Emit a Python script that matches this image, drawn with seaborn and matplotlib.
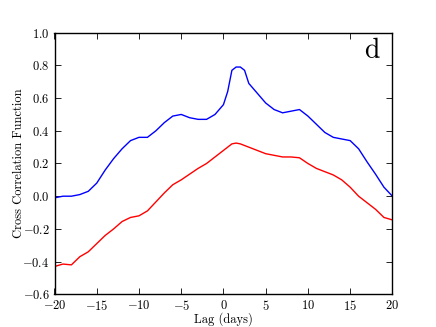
import numpy as np
import pandas as pd
import matplotlib
matplotlib.use("Agg")
import matplotlib.pyplot as plt
import seaborn as sns

# lags (days) and cross correlation values
lag = [-20, -19, -18, -17, -16, -15, -14, -13, -12, -11, -10, -9, -8, -7, -6,
       -5, -4, -3, -2, -1, 0, 0.5, 1, 1.5, 2, 2.5, 3, 4, 5, 6, 7, 8, 9, 10,
       11, 12, 13, 14, 15, 16, 17, 18, 19, 20]
azul = [-0.01, 0.0, 0.0, 0.01, 0.03, 0.08, 0.16, 0.23, 0.29, 0.34, 0.36, 0.36,
        0.40, 0.45, 0.49, 0.50, 0.48, 0.47, 0.47, 0.50, 0.56, 0.64, 0.77, 0.79,
        0.79, 0.77, 0.69, 0.63, 0.57, 0.53, 0.51, 0.52, 0.53, 0.49, 0.44, 0.39,
        0.36, 0.35, 0.34, 0.29, 0.21, 0.135, 0.055, 0.0]
rojo = [-0.43, -0.415, -0.42, -0.37, -0.34, -0.29, -0.24, -0.20, -0.155, -0.13,
        -0.12, -0.09, -0.035, 0.02, 0.07, 0.10, 0.135, 0.17, 0.20, 0.24, 0.28,
        0.30, 0.32, 0.325, 0.32, 0.31, 0.30, 0.28, 0.26, 0.25, 0.24, 0.24,
        0.235, 0.20, 0.17, 0.15, 0.13, 0.10, 0.055, 0.0, -0.04, -0.08, -0.13,
        -0.145]

df = pd.DataFrame({"lag": lag, "azul": azul, "rojo": rojo})

sns.set_style("ticks")
plt.rcParams["font.family"] = "serif"
plt.rcParams["font.serif"] = ["cmr10"]
plt.rcParams["mathtext.fontset"] = "cm"
plt.rcParams["axes.formatter.use_mathtext"] = True
plt.rcParams["text.color"] = "black"
plt.rcParams["axes.labelcolor"] = "black"
plt.rcParams["xtick.color"] = "black"
plt.rcParams["ytick.color"] = "black"

fig = plt.figure(figsize=(4.36, 3.27), dpi=100)
ax = fig.add_axes([0.125, 0.1, 0.775, 0.8])

sns.lineplot(x="lag", y="azul", data=df, color="blue", lw=1, ax=ax)
sns.lineplot(x="lag", y="rojo", data=df, color="red", lw=1, ax=ax)

ax.set_xlim(-20, 20)
ax.set_ylim(-0.6, 1.0)
ax.set_xticks(np.arange(-20, 21, 5))
ax.set_yticks(np.arange(-0.6, 1.01, 0.2))
ax.set_xlabel("Lag (days)", fontsize=9, labelpad=-1)
ax.set_ylabel("Cross Correlation Function", fontsize=9, labelpad=-2)
ax.tick_params(direction="in", top=True, right=True, labelsize=9,
               length=4, width=0.6)
for s in ax.spines.values():
    s.set_color("black")
    s.set_linewidth(1)

ax.text(0.94, 0.93, "d", transform=ax.transAxes, fontsize=20,
        ha="center", va="center")

fig.savefig("out.png", dpi=100)
